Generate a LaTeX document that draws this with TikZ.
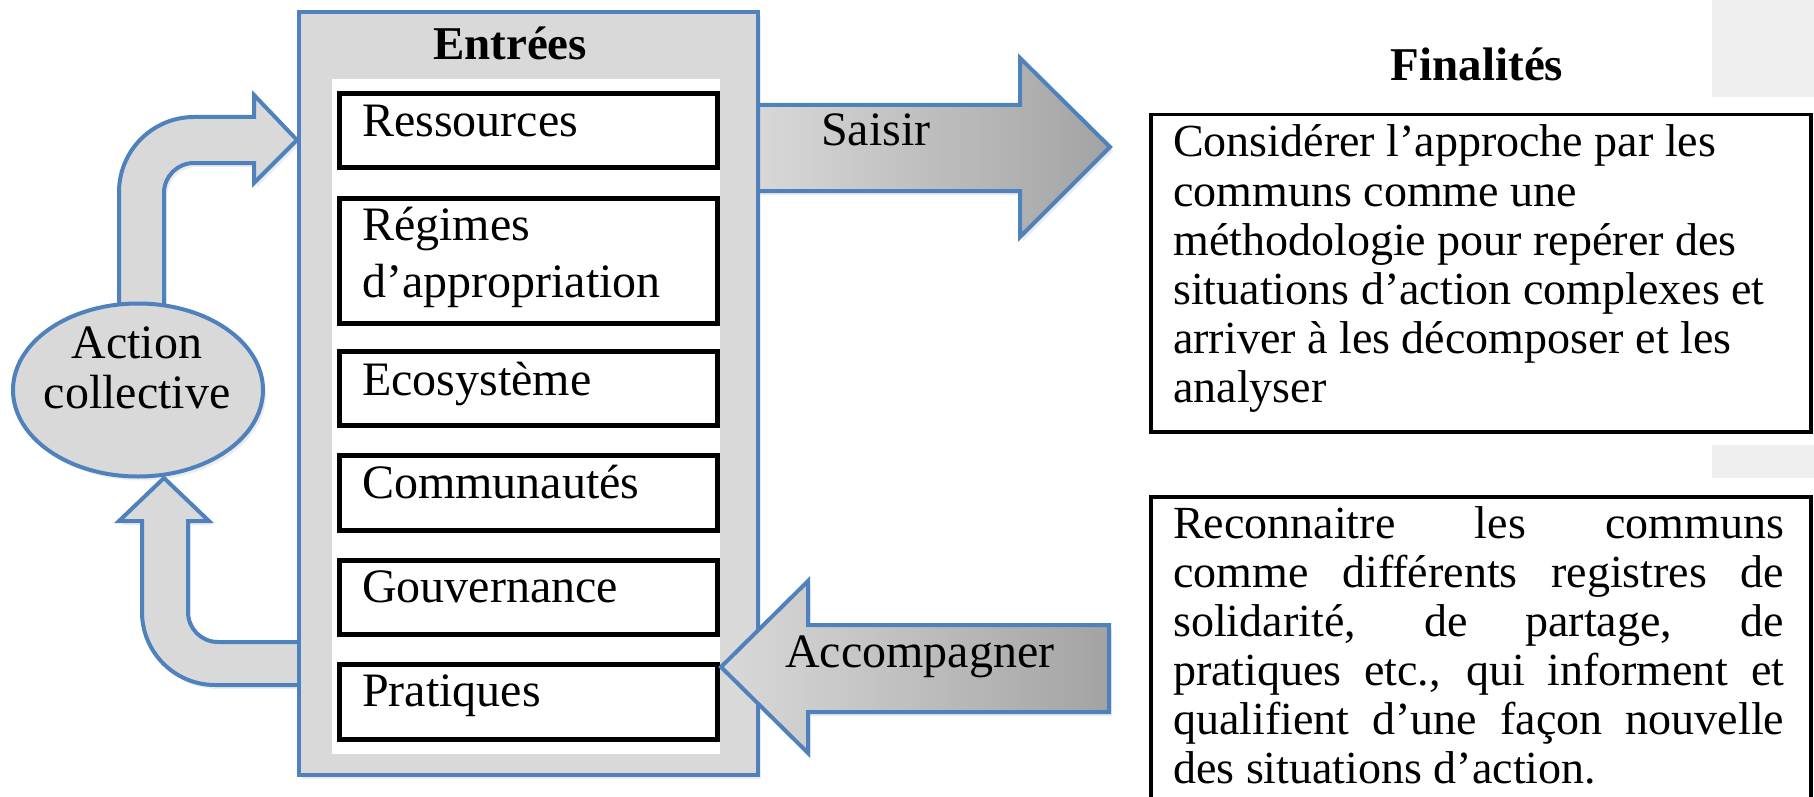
\documentclass[tikz,border=0pt]{standalone}
\usepackage{fontspec}
\setmainfont{Liberation Serif}
\usetikzlibrary{shadows,shapes.geometric}
\definecolor{ofblue}{RGB}{79,129,189}
\definecolor{boxgray}{RGB}{217,217,217}
\definecolor{darkgraytwo}{RGB}{163,163,163}
\definecolor{pale}{RGB}{239,239,239}
\begin{document}
\begin{tikzpicture}[x=1pt,y=-1pt,
  txt/.style={font=\fontsize{48}{49}\selectfont, inner sep=0pt, anchor=base west},
  ftxt/.style={font=\fontsize{46}{49}\selectfont, inner sep=0pt, anchor=base west},
  ctxt/.style={font=\fontsize{48}{49}\selectfont, inner sep=0pt, anchor=base},
  btxt/.style={font=\fontsize{47}{49}\selectfont\bfseries, inner sep=0pt, anchor=base},
  soft/.style={drop shadow={shadow xshift=3pt, shadow yshift=-4pt, opacity=0.15}},
  blockarrow/.style={draw=ofblue, line width=4pt, line join=miter, fill=boxgray, soft},
  shadedarrow/.style={draw=ofblue, line width=4pt, line join=miter, left color=boxgray, right color=darkgraytwo, soft},
  itembox/.style={draw=black, line width=5pt, fill=white, inner sep=0pt, anchor=north west, minimum width=378pt},
  finbox/.style={draw=black, line width=3.5pt, fill=white, inner sep=0pt, anchor=north west, minimum width=660pt}
]
\useasboundingbox (0,0) rectangle (1814,797);
% pale patches on the right
\fill[pale] (1712,0) rectangle (1814,97);
\fill[pale] (1712,445) rectangle (1814,478);

% bent arrow up to Entrees
\draw[blockarrow] (119,318) -- (119,192) .. controls (119,150.6) and (152.6,117) .. (194,117)
  -- (254,117) -- (254,95) -- (297,140) -- (254,183) -- (254,163) -- (194,163)
  .. controls (177.4,163) and (164,176.4) .. (164,193) -- (164,318) -- cycle;
% bent arrow back up to Action collective
\draw[blockarrow] (302,642) -- (218,642) .. controls (201.4,642) and (188,628.6) .. (188,612)
  -- (188,521) -- (209,521) -- (164,478) -- (119,521) -- (142,521) -- (142,612)
  .. controls (142,652.3) and (174.7,685) .. (215,685) -- (302,685) -- cycle;

% Saisir arrow
\draw[shadedarrow] (748,105) -- (1020,105) -- (1020,58) -- (1110,147) -- (1020,237) -- (1020,191) -- (748,191) -- cycle;

% Action collective
\node[draw=ofblue, line width=4pt, fill=boxgray, ellipse, minimum width=250pt, minimum height=173pt, inner sep=0pt, soft] (ac) at (138,390) {};
\node[ctxt] (ac1) at (137,358) {Action};
\node[ctxt] (ac2) at (137,408) {collective};

% Entrees box
\node[draw=ofblue, line width=4pt, fill=boxgray, inner sep=0pt, anchor=north west, minimum width=459pt, minimum height=763pt, soft] (entrees) at (297,10) {};
\node[fill=white, inner sep=0pt, anchor=north west, minimum width=388pt, minimum height=675pt] (panel) at (332,79) {};
\node[btxt] (tentrees) at (510,60) {Entrées};

\node[itembox, minimum height=74pt] (b1) at (337,91) {};
\node[itembox, minimum height=125pt] (b2) at (337,196) {};
\node[itembox, minimum height=74pt] (b3) at (337,349) {};
\node[itembox, minimum height=75pt] (b4) at (337,453) {};
\node[itembox, minimum height=74pt] (b5) at (337,558) {};
\node[itembox, minimum height=75pt] (b6) at (337,662) {};
\node[txt] (t1) at (362,136) {Ressources};
\node[txt] (t2a) at (362,240) {Régimes};
\node[txt] (t2b) at (362,297) {d’appropriation};
\node[txt] (t3) at (362,395) {Ecosystème};
\node[txt] (t4) at (362,498) {Communautés};
\node[txt] (t5) at (362,602) {Gouvernance};
\node[txt] (t6) at (362,706) {Pratiques};

% Accompagner arrow
\draw[shadedarrow] (721,667) -- (808,581) -- (808,625) -- (1109,625) -- (1109,712) -- (808,712) -- (808,753) -- cycle;
\node[txt] (tacc) at (785,667) {Accompagner};
\node[txt] (tsai) at (821,146) {Saisir};

% Finalites
\node[btxt] (tfin) at (1477,81) {Finalités};
\node[finbox, minimum height=317pt] (f1) at (1149,113) {};
\node[ftxt] (f1a) at (1173,157) {Considérer l’approche par les};
\node[ftxt] (f1b) at (1173,206) {communs comme une};
\node[ftxt] (f1c) at (1173,255) {méthodologie pour repérer des};
\node[ftxt] (f1d) at (1173,304) {situations d’action complexes et};
\node[ftxt] (f1e) at (1173,353) {arriver à les décomposer et les};
\node[ftxt] (f1f) at (1173,402) {analyser};

\node[finbox, minimum height=330pt] (f2) at (1149,495) {};
\node[ftxt] (f2a) at (1173,538) {\makebox[611pt][s]{Reconnaitre les communs}};
\node[ftxt] (f2b) at (1173,587) {\makebox[611pt][s]{comme différents registres de}};
\node[ftxt] (f2c) at (1173,636) {\makebox[611pt][s]{solidarité, de partage, de}};
\node[ftxt] (f2d) at (1173,685) {\makebox[611pt][s]{pratiques etc., qui informent et}};
\node[ftxt] (f2e) at (1173,734) {\makebox[611pt][s]{qualifient d’une façon nouvelle}};
\node[ftxt] (f2f) at (1173,783) {des situations d’action.};
\end{tikzpicture}
\end{document}
